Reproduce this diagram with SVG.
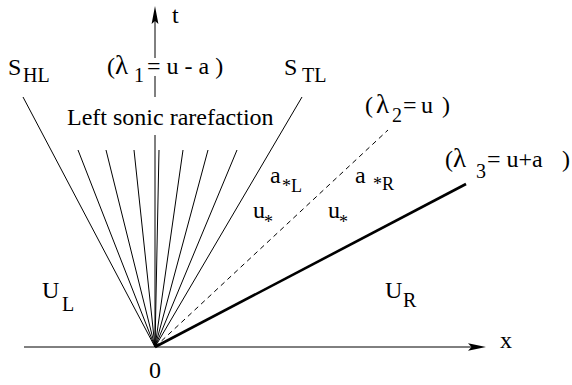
<svg xmlns="http://www.w3.org/2000/svg" width="572" height="385" viewBox="0 0 572 385">
<style>
text{font-family:"Liberation Serif","Times New Roman",serif;font-size:24px;fill:#000}
.s{font-size:20px}
.st{font-size:18px}
.l{font-size:27px}
.thin{stroke:#000;stroke-width:1;fill:none}
.dash{stroke:#000;stroke-width:1;stroke-dasharray:5 4;fill:none}
.thick{stroke:#000;stroke-width:2.6;fill:none}
</style>
<rect width="572" height="385" fill="#fff"/>
<g id="connectors">
<line class="thin" x1="24" y1="347" x2="472" y2="347"/>
<path d="M486,347 L468,343.3 L471.5,347 L468,350.7 Z" fill="#000"/>
<line class="thin" x1="155" y1="347" x2="155" y2="135"/>
<line class="thin" x1="155" y1="97" x2="155" y2="76"/>
<line class="thin" x1="155" y1="58" x2="155" y2="20"/>
<path d="M155,6 L151.6,24 L155,21 L158.4,24 Z" fill="#000"/>
<line class="thin" x1="155" y1="347" x2="23" y2="97"/>
<line class="thin" x1="155" y1="347" x2="302" y2="97"/>
<line class="thin" x1="155" y1="347" x2="78" y2="150"/>
<line class="thin" x1="155" y1="347" x2="106" y2="150"/>
<line class="thin" x1="155" y1="347" x2="134" y2="150"/>
<line class="thin" x1="155" y1="347" x2="159" y2="150"/>
<line class="thin" x1="155" y1="347" x2="183" y2="150"/>
<line class="thin" x1="155" y1="347" x2="208" y2="150"/>
<line class="thin" x1="155" y1="347" x2="237" y2="150"/>
<line class="dash" x1="155" y1="347" x2="388" y2="130"/>
<line class="thick" x1="155" y1="347" x2="466" y2="184"/>
</g>
<g id="labels">
<text x="172" y="23">t</text>
<text x="500" y="348">x</text>
<text x="155" y="378" text-anchor="middle">0</text>
<text x="8" y="75">S</text><text class="s" x="23" y="82">HL</text>
<text x="284" y="75">S</text><text class="s" x="302" y="82">TL</text>
<text x="107" y="74">(</text><text class="l" x="115" y="74">λ</text><text class="s" x="134" y="82">1</text><text x="147" y="74">= u - a )</text>
<text x="67" y="125">Left sonic rarefaction</text>
<text x="365" y="113">(</text><text class="l" x="376" y="113">λ</text><text class="s" x="392" y="122">2</text><text x="403" y="113">=</text><text x="421" y="113">u</text><text x="442" y="113">)</text>
<text x="445" y="167">(</text><text class="l" x="453" y="167">λ</text><text class="s" x="476" y="178">3</text><text x="487" y="167">= u+a</text><text x="562" y="167">)</text>
<text x="270" y="183">a</text><text class="st" x="282" y="192">*L</text>
<text x="355" y="183">a</text><text class="st" x="373" y="190">*R</text>
<text x="253" y="218">u</text><text class="st" x="264" y="228">*</text>
<text x="328" y="218">u</text><text class="st" x="339" y="228">*</text>
<text x="42" y="298">U</text><text class="s" x="62" y="311">L</text>
<text x="385" y="298">U</text><text class="s" x="403" y="307">R</text>
</g>
</svg>
